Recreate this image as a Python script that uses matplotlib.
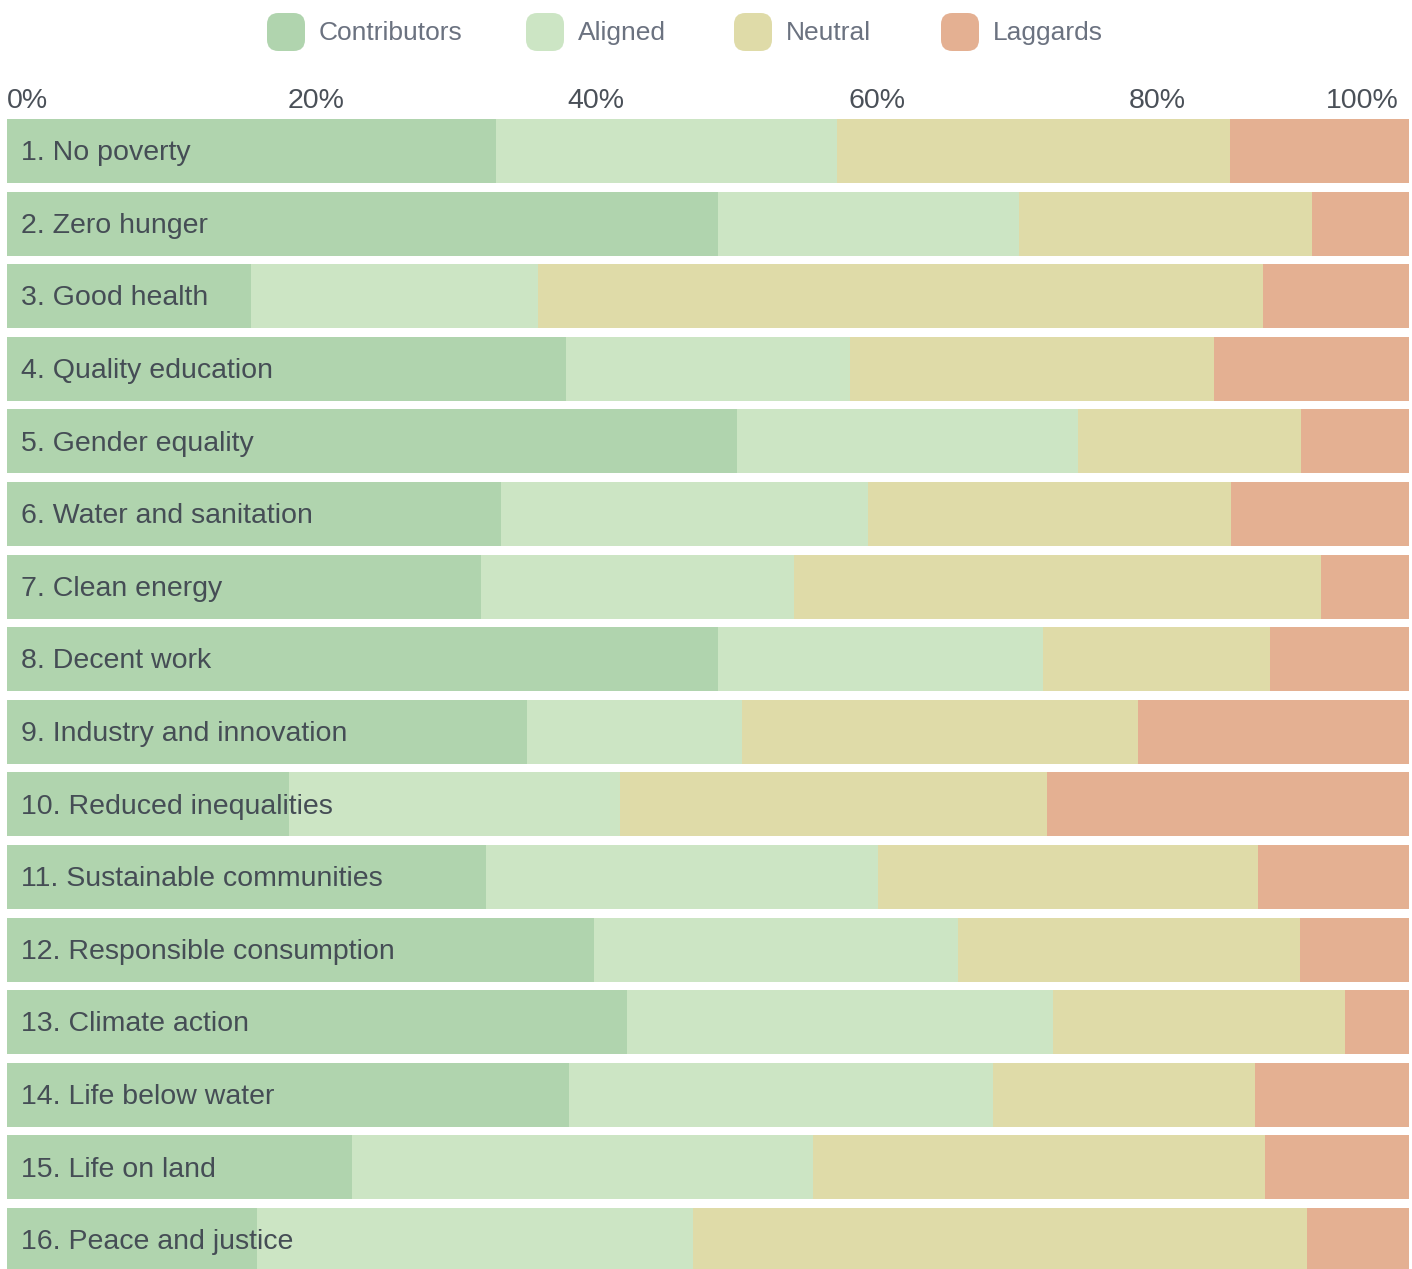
import matplotlib
matplotlib.use("Agg")
import matplotlib.pyplot as plt
from matplotlib.patches import FancyBboxPatch
from matplotlib.transforms import ScaledTranslation
import numpy as np

plt.rcParams['font.family'] = ['Liberation Sans', 'DejaVu Sans']

goals = ["1. No poverty", "2. Zero hunger", "3. Good health", "4. Quality education",
         "5. Gender equality", "6. Water and sanitation", "7. Clean energy",
         "8. Decent work", "9. Industry and innovation", "10. Reduced inequalities",
         "11. Sustainable communities", "12. Responsible consumption",
         "13. Climate action", "14. Life below water", "15. Life on land",
         "16. Peace and justice"]
contributors = [34.9, 50.7, 17.4, 39.9, 52.1, 35.2, 33.8, 50.7, 37.1, 20.1, 34.2, 41.9, 44.2, 40.1, 24.6, 17.8]
aligned      = [24.3, 21.5, 20.5, 20.2, 24.3, 26.2, 22.3, 23.2, 15.3, 23.6, 27.9, 25.9, 30.4, 30.2, 32.9, 31.1]
neutral      = [28.0, 20.9, 51.7, 26.0, 15.9, 25.9, 37.6, 16.2, 28.3, 30.5, 27.1, 24.4, 20.8, 18.7, 32.2, 43.8]
laggards     = [12.8,  6.9, 10.4, 13.9,  7.7, 12.7,  6.3,  9.9, 19.3, 25.8, 10.8,  7.8,  4.6, 11.0, 10.3,  7.3]

series = ["Contributors", "Aligned", "Neutral", "Laggards"]
colors = ["#b0d4ae", "#cce5c4", "#dfdba8", "#e4b092"]
ticks = [0, 20, 40, 60, 80, 100]

W, H = 1412, 1269
fig = plt.figure(figsize=(W / 100, H / 100), dpi=100, facecolor="white")
# 16 rows at 72.6 px pitch, bar 64 px tall, first bar top at y=119
pitch, bar_h, top = 72.6, 64.0, 119.0
bottom = top + (len(goals) - 1) * pitch + bar_h
ax = fig.add_axes([7 / W, 1 - bottom / H, 1402 / W, (bottom - top) / H])

y = np.arange(len(goals))
left = np.zeros(len(goals))
hfrac = bar_h / pitch
for name, vals, col in zip(series, [contributors, aligned, neutral, laggards], colors):
    ax.barh(y, vals, left=left, height=hfrac, color=col, linewidth=0)
    left += np.array(vals)

for i, g in enumerate(goals):
    ax.text(1.0, i + 0.03, g, va="center", ha="left", fontsize=20.5, color="#454d55")

ax.set_xlim(0, 100)
ax.set_ylim(len(goals) - 1 + hfrac / 2, -hfrac / 2)
ax.set_yticks([])
ax.xaxis.tick_top()
ax.set_xticks(ticks)
ax.set_xticklabels([f"{t}%" for t in ticks])
ax.tick_params(axis="x", length=0, pad=3.5, labelsize=20.5, labelcolor="#4a5058")
labels = ax.get_xticklabels()
for lbl in labels:
    lbl.set_horizontalalignment("left")
labels[-1].set_horizontalalignment("right")
labels[-1].set_transform(labels[-1].get_transform() +
                         ScaledTranslation(-10 / 100, 0, fig.dpi_scale_trans))
for s in ax.spines.values():
    s.set_visible(False)

# legend row with rounded swatches
box_x = [267, 526, 734, 941]
for bx, name, col in zip(box_x, series, colors):
    fig.patches.append(FancyBboxPatch(
        (bx / W, 1 - 51 / H), 38 / W, 38 / H,
        boxstyle="round,pad=0,rounding_size=0.008", transform=fig.transFigure,
        facecolor=col, edgecolor="none", mutation_aspect=W / H))
    fig.text((bx + 52) / W, 1 - 33 / H, name, va="center", ha="left",
             fontsize=19, color="#6b7280")

fig.savefig("out.png", dpi=100, facecolor="white")
